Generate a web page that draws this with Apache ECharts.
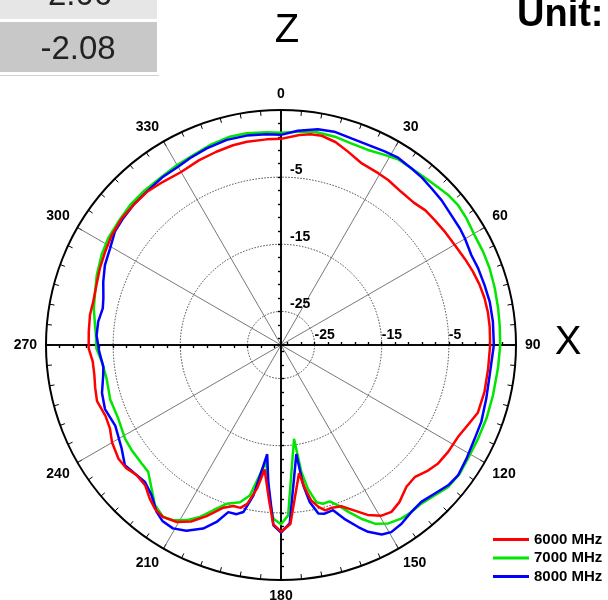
<!DOCTYPE html>
<html>
<head>
<meta charset="utf-8">
<script src="https://cdn.jsdelivr.net/npm/echarts@6/dist/echarts.min.js"></script>
<style>
  html, body { margin: 0; padding: 0; background: #fff; }
  #chart { width: 608px; height: 600px; }
</style>
</head>
<body>
<div id="chart"></div>
<script>
// Radiation pattern cut (Z-X plane), gain in dB versus angle in degrees.
const angle6000 = [0,5,8,11,15,19,24,29.5,33,38,43,47,51,55,60,65,69,73,77,81,85,90,96.5,103,109,113,117.5,122.5,127,130.5,134.5,138.5,143,146.5,149.5,153,156,159.5,163,165,167,169,170.5,172,177,180,182.5,184.5,187.5,189.5,192,194,196.5,199.5,203.5,207,210.5,214.5,217.5,220.5,224,228,231.5,235,240,244,248,253,257,261,265,269,274,279,283,288,293,298,303,308.5,313.5,319,324,330,336,341.5,346.5,350.5,356,360];
const gain6000 = [0.7,1.4,1.7,1.75,1.3,0.5,-0.4,-0.6,-0.7,-1.0,-1.0,-0.6,-0.5,-0.35,-0.15,0.25,0.6,0.9,1.1,1.2,1.2,1.15,1.05,1.1,1.0,0.3,-0.3,-0.45,-0.7,-1.2,-2.0,-1.8,-0.7,-0.2,-0.5,-1.6,-3.0,-4.35,-4.6,-4.5,-5.25,-6.4,-8.3,-10.7,-3.3,-2.2,-3.3,-7.0,-11.3,-8.3,-5.8,-5.0,-5.0,-4.3,-2.2,-0.5,0.6,1.05,0.8,0.1,-0.9,-1.05,-0.55,-0.45,-0.95,-1.65,-1.8,-1.35,-1.6,-1.85,-1.85,-1.35,-1.3,-1.2,-1.3,-1.1,-0.7,-0.35,0.05,0.3,0.3,0.3,0.0,-0.25,0.1,0.35,0.6,0.7,0.7,0.7];

const angle7000 = [0,4.6,9,14.5,19,24,28.6,32.2,36.4,39.5,43.8,48,51.7,55.6,60.4,65.2,69.8,75,80.4,85,90,96,103.4,109.7,115.4,120.3,125.8,130.4,134.4,138.5,142,145.3,149,152.3,155.2,158,160.4,162.7,165.2,167.3,169.4,170.9,172.1,177.6,180,182.5,184.1,187.2,191.7,194.6,198.9,202.3,205.2,208.3,211.6,214.4,218.2,222,226.3,229.6,234.8,239,245.6,252.3,259,264.6,269,273,276,281,286,290.8,296.7,301.7,307.2,312.8,318,324,330,335.2,340.5,346.2,350.8,356.2,360];
const gain7000 = [1.6,1.85,2.15,2.05,1.8,1.8,2.25,2.7,2.7,2.8,3.05,3.45,3.6,3.45,3.15,3.15,3.1,2.95,2.8,2.7,2.65,2.5,2.45,2.5,2.5,2.55,2.8,2.65,2.0,1.55,1.55,1.45,1.0,0.05,-1.5,-3.2,-4.65,-5.6,-5.55,-6.0,-8.2,-10.9,-15.9,-4.6,-3.3,-4.1,-6.6,-12.5,-7.1,-5.8,-5.0,-3.4,-1.7,-0.35,0.65,1.05,0.35,-1.2,-2.65,-2.75,-2.8,-2.9,-3.4,-3.3,-3.55,-3.2,-2.5,-2.4,-2.15,-1.6,-1.2,-0.65,-0.1,0.25,0.4,0.65,0.7,0.7,0.95,1.15,1.6,1.95,1.95,1.75,1.6];

const angle8000 = [0,4.5,9.7,14,19,23.5,28,32,36.5,40,44,48,52.5,57,60,64.7,68.7,73.6,78.3,83.7,90,98,104.7,111,116,121.5,126.4,130,134,138.2,142,146,149.5,152,155,157,160,162.5,165.5,167.5,169.6,171,172,177.2,180,182.4,185.3,187.2,190.4,192.7,194.7,197.5,200,203,207,210.5,214,216.7,220.7,224.8,228.6,232.4,237,244,250,255,260,263,268,273,277.3,281.6,284.7,289.6,294.4,299.5,304.3,308.8,313.5,318.8,325,330,334,339.3,345.2,350.7,356,360];
const gain8000 = [1.3,2.0,2.6,2.75,2.5,2.5,2.7,2.9,2.7,2.6,2.35,2.2,1.9,1.8,1.65,1.35,1.5,1.6,1.75,1.75,1.7,1.4,1.6,1.95,2.05,2.4,2.75,2.5,1.85,1.35,1.55,2.1,2.35,1.95,0.7,-0.55,-2.45,-4.2,-4.05,-4.3,-6.2,-8.9,-13.6,-3.4,-2.05,-3.1,-9.5,-13.6,-7.2,-4.5,-3.95,-3.9,-1.95,-0.3,1.05,1.7,1.6,1.0,-0.45,-1.25,-1.0,-0.65,-1.7,-2.55,-2.1,-2.4,-3.1,-3.35,-2.9,-2.5,-2.55,-2.9,-2.65,-1.9,-1.2,-0.75,-0.05,0.15,0.3,0.35,0.6,0.65,0.95,1.3,1.6,1.6,1.45,1.3];

// Radial scale (dB) and its marks
const radialMin = -30;
const radialMax = 5;
const radialTicks = [-29,-27,-25,-23,-21,-19,-17,-15,-13,-11,-9,-7,-5,-3,-1,1,3];
const ringLevels = [-25,-15,-5];
const ringLabels = [-25,-15,-5];
// Angular labels every 30 degrees
const angleLabels = [0,30,60,90,120,150,180,210,240,270,300,330];

const seriesNames = ['6000 MHz','7000 MHz','8000 MHz'];

const chart = echarts.init(document.getElementById('chart'));
const CX = 281, CY = 345, R = 235;
const FONT = '"Liberation Sans", Arial, sans-serif';
const NARROW = '"Liberation Sans Narrow", "Arial Narrow", "Liberation Sans", sans-serif';

function pairs(angles, gains) {
  return angles.map((a, i) => [gains[i], a]);
}

const polar = [], angleAxis = [], radiusAxis = [];

// Main polar frame: outer circle, 5-degree ticks, 30-degree spokes, dotted rings
polar.push({ center: [CX, CY], radius: R });
angleAxis.push({
  polarIndex: 0, type: 'value', min: 0, max: 360, interval: 30,
  startAngle: 90, clockwise: true, z: 1,
  axisLine: { lineStyle: { color: '#000', width: 2 } },
  axisTick: { show: true, inside: true, length: 5, lineStyle: { color: '#000', width: 1 } },
  minorTick: { show: true, splitNumber: 6, length: 5, lineStyle: { color: '#000', width: 1 } },
  splitLine: { show: true, lineStyle: { color: '#555', width: 0.8 } },
  axisLabel: {
    margin: 9, fontSize: 14, fontWeight: 'bold', color: '#000', fontFamily: FONT,
    formatter: v => (angleLabels.indexOf(v) >= 0 ? String(v) : '')
  }
});
radiusAxis.push({
  polarIndex: 0, type: 'value', min: radialMin, max: radialMax, z: 1,
  axisLine: { show: false },
  axisTick: { show: false, customValues: ringLevels },
  axisLabel: { show: false, customValues: ringLevels },
  splitLine: { show: true, lineStyle: { color: '#444', width: 1, type: [1.5, 1.5] } }
});

// Cross-hair radial axes at 0/90/180/270 with ticks on both sides of each line
[90, 0, 270, 180].forEach(dir => {
  [false, true].forEach(inside => {
    const idx = polar.length;
    polar.push({ center: [CX, CY], radius: R });
    angleAxis.push({ polarIndex: idx, type: 'value', min: 0, max: 360, startAngle: dir, show: false });
    const showLabels = !inside && (dir === 90 || dir === 0);
    radiusAxis.push({
      polarIndex: idx, type: 'value', min: radialMin, max: radialMax, z: 4,
      axisLine: { show: true, lineStyle: { color: '#000', width: 1.5 } },
      axisTick: { show: true, inside: inside, length: 3, customValues: radialTicks,
                  lineStyle: { color: '#000', width: 1.2 } },
      axisLabel: {
        show: showLabels, customValues: ringLabels,
        // vertical axis: labels sit to the right of the line
        margin: dir === 90 ? -9 : 3,
        align: 'left', verticalAlign: 'bottom',
        fontSize: 14, fontWeight: 'bold', color: '#000', fontFamily: FONT
      },
      splitLine: { show: false }
    });
  });
});

const colors = { '6000 MHz': '#ff0000', '7000 MHz': '#00e600', '8000 MHz': '#0000ff' };
function lineSeries(name, data) {
  return {
    name: name, type: 'line', coordinateSystem: 'polar', polarIndex: 0,
    data: data, symbol: 'none', smooth: false, z: 6, animation: false,
    lineStyle: { color: colors[name], width: 2.5 },
    itemStyle: { color: colors[name] }
  };
}

const option = {
  backgroundColor: '#fff',
  animation: false,
  polar: polar,
  angleAxis: angleAxis,
  radiusAxis: radiusAxis,
  legend: {
    data: seriesNames, orient: 'vertical', left: 493, top: 532, padding: 0,
    icon: 'rect', itemWidth: 36, itemHeight: 3, itemGap: 3.5,
    textStyle: { fontSize: 15, fontWeight: 'bold', color: '#000', fontFamily: FONT }
  },
  series: [
    lineSeries('7000 MHz', pairs(angle7000, gain7000)),
    lineSeries('8000 MHz', pairs(angle8000, gain8000)),
    lineSeries('6000 MHz', pairs(angle6000, gain6000))
  ],
  graphic: [
    { type: 'rect', shape: { x: 0, y: 0, width: 157, height: 19 }, style: { fill: '#e6e6e6' }, silent: true },
    { type: 'text', style: { text: '2.06', x: 80, y: -4, textAlign: 'center', textVerticalAlign: 'middle',
      font: '33px "Liberation Sans", Arial, sans-serif', fill: '#222' } },
    { type: 'rect', shape: { x: 0, y: 22, width: 157, height: 50 }, style: { fill: '#c8c8c8' }, silent: true },
    { type: 'text', style: { text: '-2.08', x: 78, y: 50, textAlign: 'center', textVerticalAlign: 'middle',
      font: '33px "Liberation Sans", Arial, sans-serif', fill: '#222' } },
    { type: 'rect', shape: { x: 0, y: 75, width: 159, height: 1 }, style: { fill: '#cfcfcf' }, silent: true },
    { type: 'text', style: { text: 'Z', x: 287, y: 31, textAlign: 'center', textVerticalAlign: 'middle',
      font: '40px ' + NARROW, fill: '#000' } },
    { type: 'text', style: { text: 'X', x: 568, y: 343, textAlign: 'center', textVerticalAlign: 'middle',
      font: '40px ' + NARROW, fill: '#000' } },
    { type: 'text', style: { text: 'Unit:', x: 517, y: 16, textAlign: 'left', textVerticalAlign: 'middle',
      font: 'bold 38px ' + NARROW, fill: '#000' } }
  ]
};
chart.setOption(option);
</script>
</body>
</html>
